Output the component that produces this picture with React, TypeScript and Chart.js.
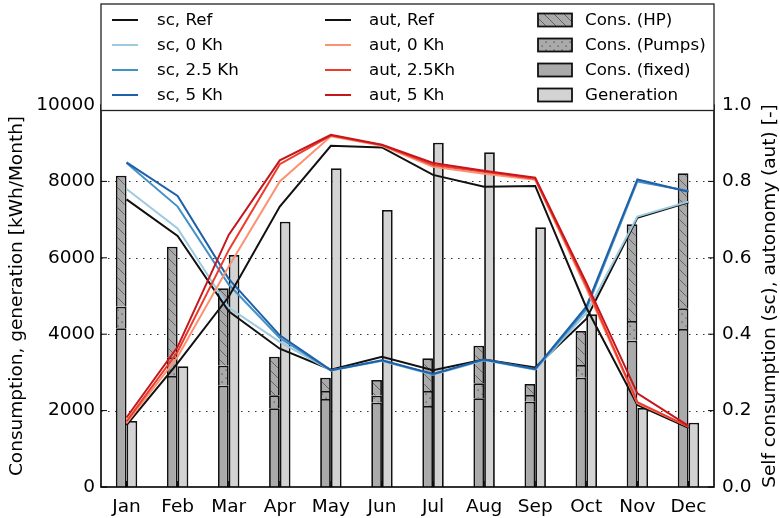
import React, { useEffect, useRef } from 'react';
import { Chart, registerables } from 'chart.js';

Chart.register(...registerables);

const months = ['Jan', 'Feb', 'Mar', 'Apr', 'May', 'Jun', 'Jul', 'Aug', 'Sep', 'Oct', 'Nov', 'Dec'];

// Monthly energy balance [kWh/Month]
const consFixed = [4155, 2906, 2653, 2060, 2304, 2208, 2121, 2322, 2234, 2862, 3831, 4136];
const consPumps = [565, 489, 523, 340, 209, 183, 392, 392, 174, 332, 515, 542];
const consHP = [3430, 2896, 2026, 1012, 349, 410, 856, 986, 289, 890, 2531, 3534];
const generation = [1728, 3160, 6074, 6946, 8343, 7252, 9014, 8762, 6799, 4521, 2070, 1684];

// Self consumption [-]
const scRef = [0.753, 0.657, 0.46, 0.362, 0.307, 0.341, 0.306, 0.334, 0.313, 0.44, 0.705, 0.745];
const sc0 = [0.78, 0.677, 0.47, 0.38, 0.305, 0.33, 0.294, 0.332, 0.307, 0.455, 0.708, 0.747];
const sc25 = [0.848, 0.734, 0.53, 0.39, 0.305, 0.331, 0.295, 0.333, 0.308, 0.465, 0.8, 0.775];
const sc5 = [0.85, 0.762, 0.545, 0.397, 0.306, 0.332, 0.296, 0.334, 0.309, 0.472, 0.805, 0.773];

// Autonomy [-]
const autRef = [0.162, 0.324, 0.498, 0.734, 0.893, 0.889, 0.817, 0.786, 0.788, 0.47, 0.215, 0.155];
const aut0 = [0.167, 0.341, 0.577, 0.8, 0.918, 0.893, 0.838, 0.82, 0.804, 0.52, 0.219, 0.158];
const aut25 = [0.172, 0.354, 0.62, 0.845, 0.92, 0.895, 0.843, 0.825, 0.807, 0.527, 0.222, 0.158];
const aut5 = [0.182, 0.367, 0.66, 0.855, 0.922, 0.896, 0.848, 0.828, 0.81, 0.535, 0.245, 0.16];

const FONT = '"DejaVu Sans", "Liberation Sans", sans-serif';

const lineSeries = [
  { label: 'sc, Ref', data: scRef, color: '#111111' },
  { label: 'sc, 0 Kh', data: sc0, color: '#9ecae1' },
  { label: 'sc, 2.5 Kh', data: sc25, color: '#4292c6' },
  { label: 'sc, 5 Kh', data: sc5, color: '#1f60a8' },
  { label: 'aut, Ref', data: autRef, color: '#111111' },
  { label: 'aut, 0 Kh', data: aut0, color: '#fc9272' },
  { label: 'aut, 2.5Kh', data: aut25, color: '#ef3b2c' },
  { label: 'aut, 5 Kh', data: aut5, color: '#c4161c' },
];

function makePattern(
  target: CanvasRenderingContext2D,
  size: number,
  bg: string,
  draw: (c: CanvasRenderingContext2D) => void
) {
  const cv = document.createElement('canvas');
  cv.width = size;
  cv.height = size;
  const c = cv.getContext('2d') as CanvasRenderingContext2D;
  c.fillStyle = bg;
  c.fillRect(0, 0, size, size);
  draw(c);
  return target.createPattern(cv, 'repeat') as CanvasPattern;
}

export default function App() {
  const canvasRef = useRef<HTMLCanvasElement | null>(null);

  useEffect(() => {
    const canvas = canvasRef.current;
    if (!canvas) return;
    const ctx = canvas.getContext('2d') as CanvasRenderingContext2D;

    const grayFixed = '#aaaaaa';
    const grayGen = '#d3d3d3';

    // "\\" hatching for the heat pump share
    const hpPattern = makePattern(ctx, 10, grayFixed, (c) => {
      c.strokeStyle = '#5a5a5a';
      c.lineWidth = 0.9;
      c.beginPath();
      c.moveTo(0, 0);
      c.lineTo(10, 10);
      c.moveTo(-2, 8);
      c.lineTo(2, 12);
      c.moveTo(8, -2);
      c.lineTo(12, 2);
      c.stroke();
    });
    // "." hatching for the pumps share
    const pumpPattern = makePattern(ctx, 8, grayFixed, (c) => {
      c.fillStyle = '#555555';
      c.fillRect(1.5, 1.5, 1.3, 1.3);
      c.fillRect(5.5, 5.5, 1.3, 1.3);
    });

    const barCommon = {
      type: 'bar' as const,
      yAxisID: 'y',
      borderColor: '#111111',
      borderWidth: 1.8,
      categoryPercentage: 0.42,
      barPercentage: 1.0,
      order: 20,
    };

    const datasets: any[] = [
      ...lineSeries.map((s, i) => ({
        type: 'line' as const,
        label: s.label,
        data: s.data,
        yAxisID: 'y2',
        borderColor: s.color,
        backgroundColor: s.color,
        borderWidth: 2,
        pointRadius: 0,
        tension: 0,
        fill: false,
        order: 8 - i,
      })),
      { ...barCommon, label: 'Cons. (fixed)', data: consFixed, stack: 'cons', backgroundColor: grayFixed },
      { ...barCommon, label: 'Cons. (Pumps)', data: consPumps, stack: 'cons', backgroundColor: pumpPattern },
      { ...barCommon, label: 'Cons. (HP)', data: consHP, stack: 'cons', backgroundColor: hpPattern },
      { ...barCommon, label: 'Generation', data: generation, stack: 'gen', backgroundColor: grayGen },
    ];

    const decor = {
      id: 'decor',
      beforeDatasetsDraw(chart: any) {
        const { ctx: c, chartArea: a, scales } = chart;
        c.save();
        c.strokeStyle = '#333333';
        c.lineWidth = 1;
        c.setLineDash([1.5, 5.5]);
        scales.y.ticks.forEach((t: any) => {
          if (t.value <= 0 || t.value >= 10000) return;
          const y = Math.round(scales.y.getPixelForValue(t.value)) + 0.5;
          c.beginPath();
          c.moveTo(a.left, y);
          c.lineTo(a.right, y);
          c.stroke();
        });
        c.restore();
      },
      afterDatasetsDraw(chart: any) {
        const { ctx: c, chartArea: a, scales } = chart;
        c.save();
        c.strokeStyle = '#000000';
        c.lineWidth = 1;
        const tl = 6;
        c.beginPath();
        scales.y.ticks.forEach((t: any) => {
          const y = scales.y.getPixelForValue(t.value);
          c.moveTo(a.left, y);
          c.lineTo(a.left + tl, y);
        });
        scales.y2.ticks.forEach((t: any) => {
          const y = scales.y2.getPixelForValue(t.value);
          c.moveTo(a.right, y);
          c.lineTo(a.right - tl, y);
        });
        months.forEach((_m, i) => {
          const x = scales.x.getPixelForValue(i);
          c.moveTo(x, a.top);
          c.lineTo(x, a.top + tl);
          c.moveTo(x, a.bottom);
          c.lineTo(x, a.bottom - tl);
        });
        c.stroke();
        c.lineWidth = 1.6;
        c.strokeRect(a.left, a.top, a.right - a.left, a.bottom - a.top);
        c.restore();
      },
      afterDraw(chart: any) {
        const { ctx: c, chartArea: a } = chart;
        const ds = chart.data.datasets;
        c.save();

        // right axis title, reading bottom to top
        c.fillStyle = '#000000';
        c.font = `18.5px ${FONT}`;
        c.textAlign = 'center';
        c.textBaseline = 'middle';
        c.translate(770, (a.top + a.bottom) / 2);
        c.rotate(-Math.PI / 2);
        c.fillText('Self consumption (sc), autonomy (aut) [-]', 0, 0);
        c.setTransform(1, 0, 0, 1, 0, 0);

        // legend box spanning the plot width
        const box = { l: a.left, r: a.right, t: 4, b: 110.5 };
        c.fillStyle = '#ffffff';
        c.fillRect(box.l, box.t, box.r - box.l, box.b - box.t);
        c.strokeStyle = '#222222';
        c.lineWidth = 1.3;
        c.strokeRect(box.l, box.t, box.r - box.l, box.b - box.t);

        const rows = [20, 45, 70, 95];
        c.font = `16.7px ${FONT}`;
        c.textAlign = 'left';
        c.textBaseline = 'middle';

        const drawLineEntry = (d: any, x0: number, tx: number, y: number) => {
          c.strokeStyle = d.borderColor;
          c.lineWidth = 2;
          c.beginPath();
          c.moveTo(x0, y);
          c.lineTo(x0 + 26, y);
          c.stroke();
          c.fillStyle = '#000000';
          c.fillText(d.label, tx, y + 1);
        };
        for (let i = 0; i < 4; i++) drawLineEntry(ds[i], 112, 157, rows[i]);
        for (let i = 0; i < 4; i++) drawLineEntry(ds[4 + i], 325, 369, rows[i]);

        const patchOrder = [10, 9, 8, 11];
        patchOrder.forEach((idx, r) => {
          const d = ds[idx];
          const y = rows[r];
          c.fillStyle = d.backgroundColor;
          c.fillRect(538, y - 6.5, 34, 13);
          c.strokeStyle = '#111111';
          c.lineWidth = 1.8;
          c.strokeRect(538, y - 6.5, 34, 13);
          c.fillStyle = '#000000';
          c.fillText(d.label, 585, y + 1);
        });
        c.restore();
      },
    };

    const chart = new Chart(ctx, {
      type: 'bar',
      data: { labels: months, datasets },
      options: {
        responsive: false,
        animation: false,
        devicePixelRatio: 1,
        layout: { padding: { top: 105, left: 0, right: 0, bottom: 0 } },
        plugins: {
          legend: { display: false },
          tooltip: { enabled: false },
        },
        scales: {
          x: {
            stacked: true,
            grid: { display: false, drawTicks: false },
            border: { display: false },
            ticks: {
              color: '#000000',
              font: { family: FONT, size: 18.5 },
              padding: 9,
              maxRotation: 0,
              autoSkip: false,
            },
            afterFit: (s: any) => {
              s.height = 31;
            },
          },
          y: {
            position: 'left',
            stacked: true,
            min: 0,
            max: 10000,
            grid: { display: false, drawTicks: false },
            border: { display: false },
            ticks: {
              stepSize: 2000,
              color: '#000000',
              font: { family: FONT, size: 18.5 },
              padding: 6,
              callback: (v: any) => String(v),
            },
            title: {
              display: true,
              text: 'Consumption, generation [kWh/Month]',
              color: '#000000',
              font: { family: FONT, size: 18.5 },
              padding: { top: 6, bottom: 0 },
            },
            afterFit: (s: any) => {
              s.width = 101;
            },
          },
          y2: {
            position: 'right',
            stacked: false,
            min: 0,
            max: 1,
            grid: { display: false, drawTicks: false },
            border: { display: false },
            ticks: {
              stepSize: 0.2,
              color: '#000000',
              font: { family: FONT, size: 18.5 },
              padding: 8,
              callback: (v: any) => Number(v).toFixed(1),
            },
            afterFit: (s: any) => {
              s.width = 66;
            },
          },
        },
      },
      plugins: [decor],
    } as any);

    return () => chart.destroy();
  }, []);

  return (
    <div style={{ position: 'absolute', left: 0, top: 0, width: 780, height: 518, background: '#ffffff' }}>
      <canvas ref={canvasRef} width={780} height={518} style={{ display: 'block' }} />
    </div>
  );
}
